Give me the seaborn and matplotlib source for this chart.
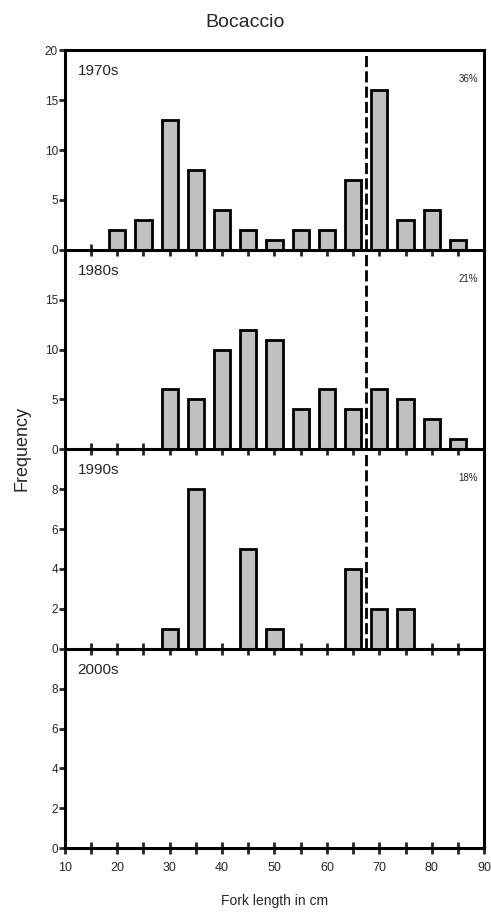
import matplotlib
matplotlib.use("Agg")
import matplotlib.pyplot as plt
import seaborn as sns
import pandas as pd

# fork length bins (cm) and counts per decade
lengths = [15, 20, 25, 30, 35, 40, 45, 50, 55, 60, 65, 70, 75, 80, 85]
counts_1970s = [0, 2, 3, 13, 8, 4, 2, 1, 2, 2, 7, 16, 3, 4, 1]
counts_1980s = [0, 0, 0, 6, 5, 10, 12, 11, 4, 6, 4, 6, 5, 3, 1]
counts_1990s = [0, 0, 0, 1, 8, 0, 5, 1, 0, 0, 4, 2, 2, 0, 0]
counts_2000s = [0, 0, 0, 0, 0, 0, 0, 0, 0, 0, 0, 0, 0, 0, 0]

decades = ["1970s", "1980s", "1990s", "2000s"]
percents = ["36%", "21%", "18%", ""]
ymax = [20, 20, 10, 10]
yticks = [[0, 5, 10, 15, 20], [0, 5, 10, 15], [0, 2, 4, 6, 8], [0, 2, 4, 6, 8]]
cutoff = 67.5

counts = [counts_1970s, counts_1980s, counts_1990s, counts_2000s]

sns.set_theme(style="ticks")
plt.rcParams['font.family'] = ['Liberation Sans', 'DejaVu Sans']

fig, axes = plt.subplots(4, 1, figsize=(4.91, 9.16), dpi=100, sharex=True)
fig.subplots_adjust(left=0.132, right=0.986, top=0.945, bottom=0.074, hspace=0)

for i, ax in enumerate(axes):
    ax.patch.set_visible(False)  # let ticks of the panel above show through
    df = pd.DataFrame({"length": lengths, "count": counts[i]})
    if sum(counts[i]) > 0:
        sns.barplot(ax=ax, data=df, x="length", y="count", native_scale=True,
                    width=0.62, color="#c0c0c0", edgecolor="black",
                    linewidth=2, saturation=1)
        # size-limit line only where there are fish
        ax.axvline(cutoff, color="black", lw=2, ls=(0, (4, 1.5)), zorder=5)
    ax.set_xlim(10, 90)
    ax.set_ylim(0, ymax[i])
    ax.set_yticks(yticks[i])
    ax.set_xticks(range(10, 91, 5))
    ax.set_xlabel("")
    ax.set_ylabel("")
    for s in ax.spines.values():
        s.set_linewidth(2.2)
        s.set_color("black")
    ax.spines['top'].set_visible(i == 0)
    ax.tick_params(axis='x', direction='inout', length=8, width=2, labelsize=9, pad=6)
    ax.tick_params(axis='y', direction='out', length=4, width=2, labelsize=8.5, pad=1)
    ax.text(0.03, 0.93, decades[i], transform=ax.transAxes, fontsize=11,
            va="top", ha="left")
    if percents[i]:
        ax.text(0.985, 0.88, percents[i], transform=ax.transAxes, fontsize=7,
                va="top", ha="right")

axes[-1].set_xticks(range(10, 91, 5))
axes[-1].set_xticklabels([str(v) if v % 10 == 0 else "" for v in range(10, 91, 5)])
axes[-1].set_xlabel("Fork length in cm", fontsize=10, labelpad=14)

fig.suptitle("Bocaccio", fontsize=14, y=0.985)
fig.text(0.045, 0.51, "Frequency", rotation=90, fontsize=13, va="center", ha="center")

plt.savefig("out.png", dpi=100)
